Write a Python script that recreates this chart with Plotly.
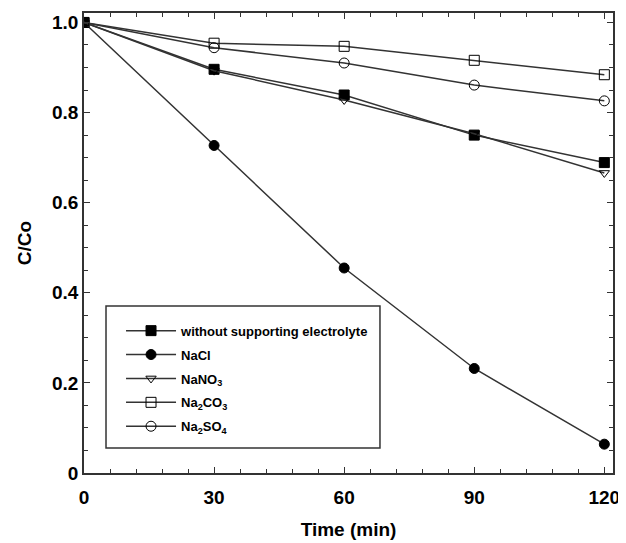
import plotly.graph_objects as go

time_min = [0, 30, 60, 90, 120]
without = [1.0, 0.896, 0.839, 0.75, 0.689]
nacl = [1.0, 0.727, 0.455, 0.232, 0.064]
nano3 = [1.0, 0.893, 0.828, 0.753, 0.666]
na2co3 = [1.0, 0.954, 0.947, 0.916, 0.884]
na2so4 = [1.0, 0.944, 0.91, 0.861, 0.826]

y_tickvals = [0, 0.2, 0.4, 0.6, 0.8, 1.0]
y_ticktext = ["0", "0.2", "0.4", "0.6", "0.8", "1.0"]
x_tickvals = [0, 30, 60, 90, 120]

FONT = "Liberation Sans, Arial, sans-serif"
LC = "#333333"

series = [
    ("without supporting electrolyte", without, "square", 10),
    ("NaCl", nacl, "circle", 10),
    ("NaNO<sub>3</sub>", nano3, "triangle-down-open", 9),
    ("Na<sub>2</sub>CO<sub>3</sub>", na2co3, "square-open", 10),
    ("Na<sub>2</sub>SO<sub>4</sub>", na2so4, "circle-open", 10),
]

fig = go.Figure()
for i, (name, vals, sym, sz) in enumerate(series):
    fig.add_trace(go.Scatter(
        x=time_min, y=vals, name=name, mode="lines+markers",
        legendgroup=f"g{i}",
        line=dict(color=LC, width=1.5),
        marker=dict(symbol=sym, size=sz, color="black",
                    line=dict(color="black", width=1)),
    ))

axis_common = dict(
    showline=True, linecolor=LC, linewidth=1.5, mirror="allticks",
    ticks="inside", ticklen=6, tickwidth=1.2, tickcolor=LC,
    showgrid=False, zeroline=False, automargin=False,
    tickfont=dict(family=FONT, size=19, color="black", weight="bold"),
)

fig.update_layout(
    width=618, height=535,
    margin=dict(l=76, r=13, t=5, b=70),
    paper_bgcolor="white", plot_bgcolor="white",
    xaxis=dict(range=[0, 122], tickvals=x_tickvals, ticklabelstandoff=6,
               minor=dict(dtick=6, ticks="inside", ticklen=4, tickcolor=LC),
               title=dict(text="Time (min)", standoff=16,
                          font=dict(family=FONT, size=19, color="black", weight="bold")),
               **axis_common),
    yaxis=dict(range=[0, 1.021], tickvals=y_tickvals, ticktext=y_ticktext,
               minor=dict(dtick=0.05, ticks="inside", ticklen=4, tickcolor=LC),
               title=dict(text="C/Co", standoff=15,
                          font=dict(family=FONT, size=19, color="black", weight="bold")),
               **axis_common),
    legend=dict(x=0.07, y=0.342, xanchor="left", yanchor="top",
                borderwidth=0, bgcolor="rgba(0,0,0,0)",
                itemwidth=50, tracegroupgap=4,
                font=dict(family=FONT, size=13, color="black", weight="bold")),
    shapes=[dict(type="rect", xref="paper", yref="paper",
                 x0=0.0416, x1=0.5595, y0=0.0543, y1=0.363,
                 line=dict(color=LC, width=1.5), fillcolor="rgba(0,0,0,0)",
                 layer="below")],
    showlegend=True,
)

fig.write_html("out.html")
